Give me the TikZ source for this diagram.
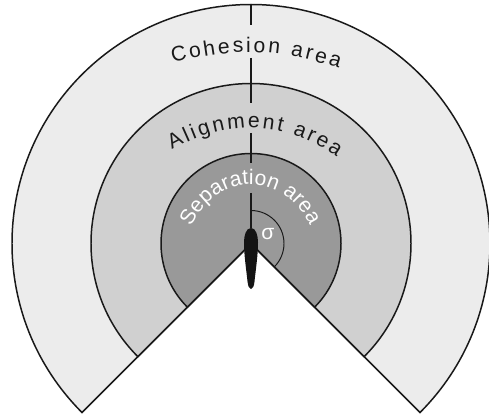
\documentclass[tikz,border=0pt]{standalone}
\usepackage{fontspec}
\setmainfont{Liberation Sans}
\usetikzlibrary{decorations.text}
\definecolor{cohesioncol}{gray}{0.925}
\definecolor{alignmentcol}{gray}{0.815}
\definecolor{separationcol}{gray}{0.6}
\definecolor{linecol}{gray}{0.1}
\newcommand{\labelfont}{\fontsize{12}{13}\selectfont}
\tikzset{
  zone/.style={draw=linecol,line width=0.85pt,line join=miter},
  axisline/.style={linecol,line width=1.1pt},
  arctext/.style={decorate,decoration={text along path,text align={fit to path},text={#1}}},
}

\begin{document}
\begin{tikzpicture}[x=0.02cm,y=0.02cm]
  \useasboundingbox (-251,-171.5) rectangle (238,243.5);
  \foreach \rad/\col in {239/cohesioncol,160/alignmentcol,90/separationcol}{
    \filldraw[zone,fill=\col] (0,0) -- (225:\rad) arc[start angle=225,end angle=-45,radius=\rad] -- cycle;
  }
  % centre line, broken at the labels
  \foreach \ya/\yb in {239/218.5,185.5/140.5,110.5/80.5,50.5/15}{
    \draw[axisline] (0,\ya) -- (0,\yb);
  }
  % angle mark
  \draw[linecol,line width=0.55pt] (0,33) arc[start angle=90,end angle=-45,radius=33];
  \node[white,font=\labelfont] (sigma) at (17,9) {σ};
  % body
  \fill[black!92] (0,15.5) .. controls (-5,15.5) and (-7,8) .. (-7,1)
    .. controls (-7,-12) and (-4.5,-28) .. (-3.5,-38)
    .. controls (-3,-43) and (-1.5,-45.5) .. (0,-45.5)
    .. controls (1.5,-45.5) and (3,-43) .. (3.5,-38)
    .. controls (4.5,-28) and (7,-12) .. (7,1)
    .. controls (7,8) and (5,15.5) .. (0,15.5) -- cycle;
  % labels on arcs
  \path[arctext={|\labelfont\color{linecol}|Cohesion area}]
    (-78,180.5) to[bend left=16] (88,175);
  \path[arctext={|\labelfont\color{linecol}|Alignment area}]
    (-79,93.5) to[bend left=32] (86,86.5);
  \path[arctext={|\labelfont\color{white}|Separation area}]
    (-60,17) to[bend left=64,looseness=1.32] (59,18);
\end{tikzpicture}
\end{document}
